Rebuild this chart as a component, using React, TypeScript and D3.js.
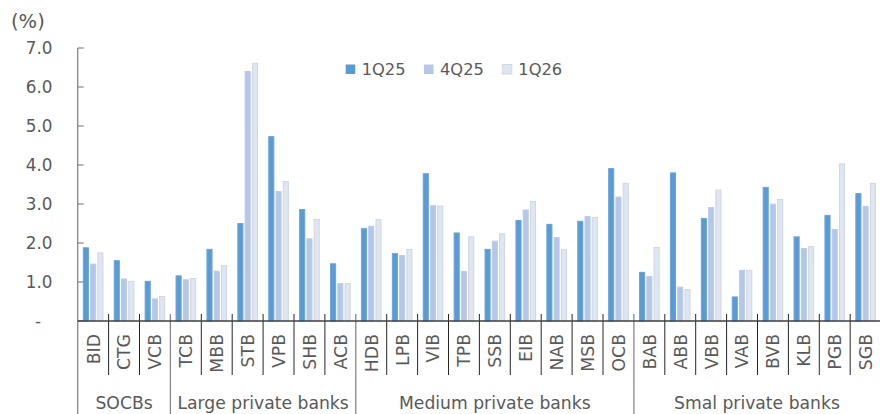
import React from "react";
import * as d3 from "d3";

const categories = [
  "BID", "CTG", "VCB",
  "TCB", "MBB", "STB", "VPB", "SHB", "ACB",
  "HDB", "LPB", "VIB", "TPB", "SSB", "EIB", "NAB", "MSB", "OCB",
  "BAB", "ABB", "VBB", "VAB", "BVB", "KLB", "PGB", "SGB",
];

const s1Q25 = [
  1.89, 1.56, 1.03,
  1.17, 1.85, 2.51, 4.74, 2.87, 1.48,
  2.38, 1.74, 3.79, 2.27, 1.85, 2.59, 2.49, 2.57, 3.92,
  1.26, 3.81, 2.64, 0.63, 3.44, 2.17, 2.72, 3.28,
];
const s4Q25 = [
  1.47, 1.09, 0.58,
  1.07, 1.29, 6.41, 3.33, 2.12, 0.97,
  2.44, 1.69, 2.97, 1.28, 2.06, 2.86, 2.15, 2.69, 3.19,
  1.15, 0.88, 2.92, 1.31, 3.01, 1.87, 2.36, 2.95,
];
const s1Q26 = [
  1.76, 1.03, 0.64,
  1.10, 1.43, 6.62, 3.59, 2.62, 0.97,
  2.61, 1.85, 2.96, 2.17, 2.25, 3.08, 1.84, 2.67, 3.54,
  1.90, 0.82, 3.37, 1.31, 3.13, 1.92, 4.04, 3.54,
];

const seriesNames = ["1Q25", "4Q25", "1Q26"];
const seriesValues = [s1Q25, s4Q25, s1Q26];
const seriesFill = ["#5b9bd5", "#b4c7e7", "#dee5f3"];
const seriesStroke = ["#6aa4d9", "#bccde9", "#d2d6de"];

const groups = [
  { name: "SOCBs", start: 0, end: 3 },
  { name: "Large private banks", start: 3, end: 9 },
  { name: "Medium private banks", start: 9, end: 18 },
  { name: "Smal private banks", start: 18, end: 26 },
];

const yTicks = [0, 1, 2, 3, 4, 5, 6, 7];

const W = 880;
const H = 414;
const FONT = "'DejaVu Sans', Verdana, sans-serif";
const TXT = "#595959";

export default function App() {
  const x0 = 77.7;
  const x1 = x0 + 30.9 * categories.length;
  const x = d3.scaleBand<string>().domain(categories).range([x0, x1]).padding(0);
  const bw = x.bandwidth();
  const inner = d3
    .scaleBand<string>()
    .domain(seriesNames)
    .range([bw / 2 - 10.3, bw / 2 + 10.3])
    .paddingInner(0.16)
    .paddingOuter(0);
  const y = d3.scaleLinear().domain([0, 7]).range([321, 48]);
  const y0 = y(0);

  const boundaries = d3.range(categories.length + 1).map((i) => x0 + i * bw);
  const groupEdges = new Set<number>(groups.map((g) => g.start).concat([categories.length]));

  return (
    <svg
      width={W}
      height={H}
      style={{ position: "absolute", left: 0, top: 0, background: "#fff" }}
      fontFamily={FONT}
    >
      {/* unit label */}
      <text x={11} y={28} fontSize={19.5} fill={TXT}>(%)</text>

      {/* y tick labels */}
      {yTicks.map((t) => (
        <text
          key={t}
          x={t === 0 ? 38 : 52.5}
          y={y(t)}
          dy="0.36em"
          textAnchor={t === 0 ? "middle" : "end"}
          fontSize={16.8}
          fill={TXT}
        >
          {t === 0 ? "-" : d3.format(".1f")(t)}
        </text>
      ))}

      {/* bars */}
      {seriesNames.map((s, si) => (
        <g key={s}>
          {categories.map((c, ci) => {
            const v = seriesValues[si][ci];
            const bx = (x(c) as number) + (inner(s) as number);
            const by = y(v);
            return (
              <rect
                key={c}
                x={bx + 0.5}
                y={by + 0.5}
                width={inner.bandwidth() - 1}
                height={Math.max(0, y0 - by - 0.5)}
                fill={seriesFill[si]}
                stroke={seriesStroke[si]}
                strokeWidth={1}
              />
            );
          })}
        </g>
      ))}

      {/* y axis */}
      <line x1={x0} x2={x0} y1={y(7)} y2={H} stroke="#868686" strokeWidth={1.3} />
      {yTicks.map((t) => (
        <line key={t} x1={x0} x2={x0 + 6} y1={y(t)} y2={y(t)} stroke="#868686" strokeWidth={1.2} />
      ))}

      {/* category separators */}
      {boundaries.map((bx, i) =>
        i === 0 ? null : groupEdges.has(i) && i < categories.length ? (
          <line key={i} x1={bx} x2={bx} y1={314} y2={H} stroke="#868686" strokeWidth={1.3} />
        ) : (
          <line key={i} x1={bx} x2={bx} y1={314} y2={375} stroke="#262626" strokeWidth={1} />
        )
      )}

      {/* x axis line */}
      <line x1={x0} x2={W} y1={y0} y2={y0} stroke="#404040" strokeWidth={1.3} />

      {/* category labels */}
      {categories.map((c) => {
        const cx = (x(c) as number) + bw / 2;
        return (
          <text
            key={c}
            transform={`translate(${cx},334) rotate(-90)`}
            dy="0.37em"
            textAnchor="end"
            fontSize={17.3}
            fill={TXT}
          >
            {c}
          </text>
        );
      })}

      {/* group labels */}
      {groups.map((g) => {
        const gx = (x0 + g.start * bw + Math.min(x0 + g.end * bw, W)) / 2;
        return (
          <text key={g.name} x={gx} y={409} textAnchor="middle" fontSize={17.2} fill={TXT}>
            {g.name}
          </text>
        );
      })}

      {/* legend */}
      {seriesNames.map((s, si) => {
        const lx = 345.7 + si * 78.3;
        return (
          <g key={s}>
            <rect x={lx} y={64.5} width={9.5} height={9.5} fill={seriesFill[si]} stroke={si === 2 ? "#d2d6de" : "none"} />
            <text x={lx + 16} y={69.5} dy="0.36em" fontSize={16.3} fill={TXT}>
              {s}
            </text>
          </g>
        );
      })}
    </svg>
  );
}
